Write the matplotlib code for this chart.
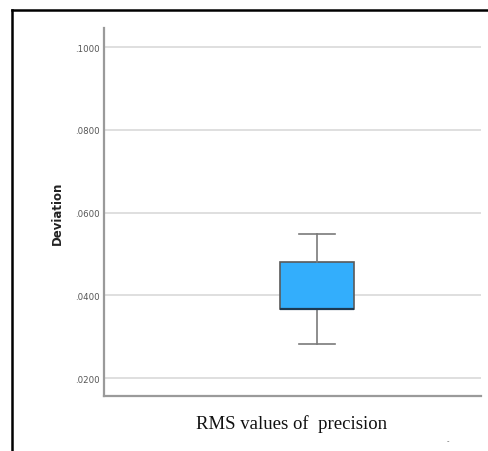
import matplotlib
matplotlib.use("Agg")
import matplotlib.pyplot as plt
from matplotlib.lines import Line2D

# box plot summary
label = "RMS values of  precision"
whisker_low = 0.0282
q1 = 0.0366
median = 0.0368
q3 = 0.0481
whisker_high = 0.0549

yticks = [0.02, 0.04, 0.06, 0.08, 0.10]
ytick_labels = [".0200", ".0400", ".0600", ".0800", ".1000"]

fig = plt.figure(figsize=(4.88, 4.52), dpi=100)
ax = fig.add_axes([0.2131, 0.1217, 0.7725, 0.8142])

stats = [{"whislo": whisker_low, "q1": q1, "med": median, "q3": q3,
          "whishi": whisker_high, "fliers": [], "label": label}]
ax.bxp(stats, positions=[0.565], widths=0.196, patch_artist=True, showfliers=False,
       boxprops=dict(facecolor="#33aefc", edgecolor="#5a5a5a", linewidth=1.2),
       medianprops=dict(color="#1d3a52", linewidth=1.6),
       whiskerprops=dict(color="#7a7a7a", linewidth=1.2),
       capprops=dict(color="#7a7a7a", linewidth=1.2),
       capwidths=0.098, zorder=3)

ax.set_xlim(0, 1)
ax.set_ylim(0.01566, 0.1046)
ax.set_yticks(yticks)
ax.set_yticklabels(ytick_labels)
ax.set_xticks([])
ax.tick_params(axis="y", length=0, pad=3, labelsize=6.2, labelcolor="#555555")
ax.grid(axis="y", color="#dcdcdc", linewidth=1.3, zorder=0)
ax.set_axisbelow(True)

for s in ["top", "right"]:
    ax.spines[s].set_visible(False)
for s in ["left", "bottom"]:
    ax.spines[s].set_color("#9a9a9a")
    ax.spines[s].set_linewidth(1.6)

ax.set_ylabel("Deviation", fontsize=8.5, fontweight="bold", color="#222222", labelpad=8)
fig.text(0.597, 0.062, label, ha="center", va="center",
         fontfamily="Liberation Serif", fontsize=13.5, color="#111111")
fig.text(0.918, 0.024, "-", ha="center", va="center", fontsize=5, color="#555555")

# black frame on top and left
fig.add_artist(Line2D([0.025, 1.0], [0.976, 0.976], color="black", linewidth=1.8))
fig.add_artist(Line2D([0.025, 0.025], [0.0, 0.976], color="black", linewidth=1.8))

fig.savefig("out.png", dpi=100)
